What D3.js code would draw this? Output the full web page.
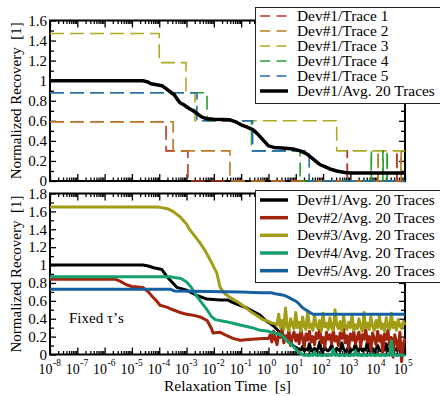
<!DOCTYPE html>
<html>
<head>
<meta charset="utf-8">
<script src="https://cdnjs.cloudflare.com/ajax/libs/d3/7.8.5/d3.min.js"></script>
<style>
body { margin: 0; background: #fff; }
text { font-family: "Liberation Serif", "Times New Roman", serif; fill: #000; }
</style>
</head>
<body>
<svg id="chart" width="440" height="396"></svg>
<script>
// decades on the time axis (exponents of 10, seconds)
var decades = [-8, -7, -6, -5, -4, -3, -2, -1, 0, 1, 2, 3, 4, 5];
var topTicks = [0, 0.2, 0.4, 0.6, 0.8, 1, 1.2, 1.4, 1.6];
var botTicks = [0, 0.2, 0.4, 0.6, 0.8, 1, 1.2, 1.4, 1.6, 1.8];

// Dev#1 single traces: [log10(t), recovery], value held until the next point
var trace1 = [[-8, 0.59], [-3.75, 0.30], [-2.95, 0], [2.88, 0.30], [2.89, 0], [4.70, 0.30], [4.71, 0], [5, 0]];
var trace2 = [[-8, 0.59], [-3.49, 0.30], [-1.41, 0], [4.01, 0.30], [4.02, 0], [4.85, 0.30], [4.86, 0], [5, 0]];
var trace3 = [[-8, 1.47], [-4.0, 1.18], [-3.02, 0.88], [-2.69, 0.60], [2.5, 0.30], [5, 0.30]];
var trace4 = [[-8, 0.88], [-2.25, 0.60], [-0.62, 0.30], [1.16, 0], [3.76, 0.30], [3.77, 0],
              [4.19, 0.30], [4.20, 0], [4.34, 0.30], [4.35, 0], [5, 0]];
var trace5 = [[-8, 0.88], [-2.62, 0.60], [-0.58, 0.30], [1.49, 0], [5, 0]];

// Dev#1 average of 20 traces (top panel)
var dev1Avg = [[-8, 1.0], [-4.6, 1.0], [-4.45, 0.99], [-4.3, 0.97], [-4.1, 0.96], [-3.9, 0.95],
  [-3.75, 0.92], [-3.6, 0.89], [-3.45, 0.86], [-3.35, 0.82], [-3.24, 0.78], [-3.1, 0.76],
  [-2.95, 0.73], [-2.76, 0.70], [-2.6, 0.67], [-2.45, 0.64], [-2.25, 0.62], [-2.0, 0.615],
  [-1.41, 0.61], [-1.2, 0.59], [-1.0, 0.56], [-0.8, 0.54], [-0.56, 0.51], [-0.4, 0.47],
  [-0.2, 0.41], [0.0, 0.35], [0.2, 0.335], [0.5, 0.33], [0.9, 0.32], [1.16, 0.30], [1.4, 0.27],
  [1.63, 0.22], [1.85, 0.17], [2.0, 0.15], [2.25, 0.12], [2.5, 0.10], [2.8, 0.085], [3.0, 0.08], [5, 0.08]];

// bottom panel, averages of 20 traces per device, smooth part up to 1 s
var dev1Head = [[-8, 1.0], [-4.6, 1.0], [-4.4, 0.99], [-4.2, 0.97], [-3.9, 0.95], [-3.72, 0.87],
  [-3.5, 0.80], [-3.35, 0.75], [-3.0, 0.72], [-2.62, 0.66], [-2.25, 0.62], [-1.78, 0.61],
  [-1.5, 0.61], [-1.3, 0.58], [-0.79, 0.52], [-0.31, 0.44], [-0.1, 0.38]];
var dev2Head = [[-8, 0.84], [-5.6, 0.84], [-5.44, 0.82], [-5.2, 0.78], [-5.0, 0.76], [-4.6, 0.75],
  [-4.4, 0.70], [-4.23, 0.64], [-4.1, 0.60], [-3.97, 0.55], [-3.72, 0.53], [-3.5, 0.50],
  [-3.24, 0.47], [-3.0, 0.45], [-2.76, 0.44], [-2.5, 0.42], [-2.25, 0.38], [-2.1, 0.30],
  [-2.03, 0.24], [-1.78, 0.25], [-1.52, 0.21], [-1.3, 0.18], [-1.04, 0.16], [-0.6, 0.17], [-0.2, 0.18]];
var dev3Head = [[-8, 1.65], [-4.2, 1.65], [-3.97, 1.645], [-3.7, 1.63], [-3.5, 1.60], [-3.24, 1.54],
  [-3.0, 1.46], [-2.87, 1.39], [-2.51, 1.25], [-2.3, 1.15], [-2.14, 1.06], [-1.89, 0.91],
  [-1.77, 0.75], [-1.6, 0.68], [-1.41, 0.64], [-1.04, 0.57], [-0.56, 0.46], [-0.2, 0.39]];
var dev4Head = [[-8, 0.87], [-3.6, 0.87], [-3.45, 0.86], [-3.2, 0.85], [-3.0, 0.81], [-2.85, 0.76],
  [-2.62, 0.65], [-2.4, 0.56], [-2.25, 0.50], [-2.1, 0.43], [-1.95, 0.39], [-1.6, 0.37],
  [-1.3, 0.35], [-1.04, 0.33], [-0.6, 0.30], [-0.3, 0.27]];
var dev5 = [[-8, 0.73], [-3.6, 0.73], [-3.45, 0.71], [-1.0, 0.70], [-0.3, 0.69], [0.1, 0.69],
  [0.25, 0.68], [0.42, 0.67], [0.6, 0.66], [0.79, 0.63], [1.04, 0.59], [1.26, 0.52],
  [1.52, 0.47], [1.63, 0.45], [5, 0.45]];

// noisy tails, sampled every 1/16 decade from 1 s to 1e5 s
var tailStep = 1 / 16;
var dev1Tail = [0.36, 0.35, 0.33, 0.32, 0.30, 0.28, 0.26, 0.24, 0.22, 0.20, 0.18, 0.16, 0.14, 0.12, 0.11, 0.09,
  0.08, 0.07, 0.06, 0.05, 0.09, 0.04, 0.06, 0.05, 0.12, 0.04, 0.05, 0.07, 0.04, 0.06, 0.14, 0.05,
  0.04, 0.08, 0.05, 0.04, 0.06, 0.11, 0.05, 0.04, 0.07, 0.05, 0.04, 0.13, 0.06, 0.04, 0.05, 0.09,
  0.04, 0.05, 0.06, 0.12, 0.04, 0.05, 0.08, 0.04, 0.06, 0.05, 0.15, 0.04, 0.05, 0.07, 0.04, 0.06,
  0.10, 0.05, 0.04, 0.06, 0.05, 0.12, 0.04, 0.05, 0.08, 0.04, 0.06, 0.05, 0.11, 0.04, 0.05, 0.07, 0.05];
var dev2Tail = [0.18, 0.22, 0.14, 0.26, 0.17, 0.11, 0.24, 0.19, 0.29, 0.13, 0.21, 0.16, 0.27, 0.10, 0.20, 0.25,
  0.15, 0.22, 0.12, 0.28, 0.18, 0.09, 0.23, 0.16, 0.26, 0.14, 0.20, 0.11, 0.24, 0.18, 0.30, 0.13,
  0.19, 0.08, 0.25, 0.17, 0.22, 0.12, 0.27, 0.15, 0.20, 0.10, 0.24, 0.18, 0.29, 0.13, 0.21, 0.07,
  0.23, 0.16, 0.26, 0.12, 0.19, 0.25, 0.09, 0.22, 0.17, 0.28, 0.14, 0.20, 0.05, 0.24, 0.18, 0.11,
  0.26, 0.15, 0.21, 0.02, 0.23, 0.17, 0.27, 0.10, 0.19, -0.03, 0.22, 0.14, 0.06, 0.25, -0.08, 0.12, 0.18];
var dev3Tail = [0.37, 0.36, 0.35, 0.35, 0.34, 0.33, 0.45, 0.30, 0.38, 0.28, 0.52, 0.31, 0.27, 0.40, 0.33, 0.29,
  0.47, 0.30, 0.36, 0.26, 0.42, 0.31, 0.28, 0.49, 0.30, 0.34, 0.27, 0.44, 0.32, 0.29, 0.38, 0.26,
  0.46, 0.31, 0.35, 0.28, 0.41, 0.30, 0.27, 0.50, 0.33, 0.29, 0.37, 0.26, 0.43, 0.31, 0.28, 0.36,
  0.30, 0.45, 0.27, 0.33, 0.29, 0.40, 0.31, 0.26, 0.47, 0.30, 0.35, 0.28, 0.42, 0.32, 0.27, 0.38,
  0.30, 0.44, 0.29, 0.34, 0.26, 0.41, 0.31, 0.28, 0.46, 0.30, 0.36, 0.27, 0.39, 0.32, 0.29, 0.37, 0.33];
var dev4Tail = [0.26, 0.25, 0.25, 0.24, 0.24, 0.23, 0.23, 0.22, 0.21, 0.19, 0.17, 0.15, 0.13, 0.12, 0.10, 0.08,
  0.06, 0.04, 0.02, 0.01, 0.00, -0.01, 0.00, -0.01, -0.01, 0.00, -0.01, 0.03, -0.01, -0.01, 0.00, -0.01,
  -0.01, 0.00, -0.01, -0.01, 0.00, -0.01, 0.06, -0.01, 0.00, -0.01, -0.01, 0.00, -0.01, -0.01, 0.00, -0.01,
  -0.01, 0.00, -0.01, 0.04, -0.01, 0.00, -0.01, -0.01, 0.00, -0.01, -0.01, 0.00, -0.01, 0.00, -0.01, -0.01,
  0.00, -0.01, -0.01, 0.00, -0.01, -0.01, 0.00, -0.01, 0.15, -0.01, 0.00, -0.01, -0.01, 0.00, -0.01, -0.01, 0.00];

var topNames = ["Dev#1/Trace 1", "Dev#1/Trace 2", "Dev#1/Trace 3", "Dev#1/Trace 4", "Dev#1/Trace 5", "Dev#1/Avg. 20 Traces"];
var botNames = ["Dev#1/Avg. 20 Traces", "Dev#2/Avg. 20 Traces", "Dev#3/Avg. 20 Traces", "Dev#4/Avg. 20 Traces", "Dev#5/Avg. 20 Traces"];

var traceColors = ["#b83a22", "#b87a22", "#b0aa22", "#28a028", "#2a6cb4"];
var devColors = ["#000000", "#a3240c", "#a29d14", "#16a06c", "#165fa0"];

function withTail(head, tail) {
  return head.concat(tail.map(function(v, i) { return [i * tailStep, v]; }));
}

var svg = d3.select("#chart");
var left = 50, right = 405;

var x = d3.scaleLog().domain([1e-8, 1e5]).range([left, right]);
var yTop = d3.scaleLinear().domain([0, 1.6]).range([181, 20.5]);
var yBot = d3.scaleLinear().domain([0, 1.8]).range([354.5, 193.5]);

var majorX = decades.map(function(e) { return Math.pow(10, e); });
var minorX = [];
decades.slice(0, -1).forEach(function(e) {
  for (var m = 2; m < 10; m++) minorX.push(m * Math.pow(10, e));
});

function fmt(v) { return String(+v.toFixed(1)); }

// frame + inward ticks on all four sides
function drawPanel(y, ticks, showX) {
  var g = svg.append("g");
  var minorY = ticks.slice(0, -1).map(function(v) { return +(v + 0.1).toFixed(1); });
  var y0 = y.range()[0], y1 = y.range()[1];

  function add(axis, tr) {
    var a = g.append("g").attr("transform", tr).call(axis);
    a.select(".domain").remove();
    a.selectAll("line").attr("stroke", "#000").attr("stroke-width", 1.3);
    return a;
  }
  add(d3.axisBottom(x).tickValues(majorX).tickSizeInner(-7).tickSizeOuter(0).tickFormat(""), "translate(0," + y0 + ")");
  add(d3.axisBottom(x).tickValues(minorX).tickSizeInner(-3.5).tickSizeOuter(0).tickFormat(""), "translate(0," + y0 + ")");
  add(d3.axisTop(x).tickValues(majorX).tickSizeInner(-7).tickSizeOuter(0).tickFormat(""), "translate(0," + y1 + ")");
  add(d3.axisTop(x).tickValues(minorX).tickSizeInner(-3.5).tickSizeOuter(0).tickFormat(""), "translate(0," + y1 + ")");
  var ly = add(d3.axisLeft(y).tickValues(ticks).tickSizeInner(-6).tickSizeOuter(0).tickPadding(3).tickFormat(fmt), "translate(" + left + ",0)");
  ly.attr("font-family", null).attr("font-size", null);
  ly.selectAll("text").style("font-size", "15px");
  add(d3.axisLeft(y).tickValues(minorY).tickSizeInner(-4).tickSizeOuter(0).tickFormat(""), "translate(" + left + ",0)");
  add(d3.axisRight(y).tickValues(ticks).tickSizeInner(-6).tickSizeOuter(0).tickFormat(""), "translate(" + right + ",0)");
  add(d3.axisRight(y).tickValues(minorY).tickSizeInner(-4).tickSizeOuter(0).tickFormat(""), "translate(" + right + ",0)");

  g.append("rect")
    .attr("x", left).attr("y", y1)
    .attr("width", right - left).attr("height", y0 - y1)
    .attr("fill", "none").attr("stroke", "#000").attr("stroke-width", 2);

  if (showX) {
    // "10" ends just right of the tick, exponent sits raised after it
    decades.forEach(function(e) {
      var tx = x(Math.pow(10, e));
      g.append("text")
        .attr("x", tx + 2.5).attr("y", 373.5)
        .attr("text-anchor", "end").style("font-size", "14px")
        .text("10");
      g.append("text")
        .attr("x", tx + 3).attr("y", 366)
        .style("font-size", "9.5px")
        .text(e);
    });
  }

  svg.append("text")
    .attr("transform", "translate(21," + ((y0 + y1) / 2) + ") rotate(-90)")
    .attr("text-anchor", "middle")
    .style("font-size", "15px").style("white-space", "pre")
    .text("Normalized Recovery  [1]");
}

drawPanel(yTop, topTicks, false);
drawPanel(yBot, botTicks, true);

function lineFor(y, curve) {
  return d3.line()
    .x(function(d) { return x(Math.pow(10, d[0])); })
    .y(function(d) { return y(d[1]); })
    .curve(curve || d3.curveLinear);
}

// top panel: dashed single traces and the average
var topData = [trace1, trace2, trace3, trace4, trace5];
var stepLine = lineFor(yTop, d3.curveStepAfter);
topData.forEach(function(d, i) {
  svg.append("path").attr("d", stepLine(d))
    .attr("fill", "none").attr("stroke", traceColors[i])
    .attr("stroke-width", 1.6).attr("stroke-dasharray", "14,6");
});
svg.append("path").attr("d", lineFor(yTop)(dev1Avg))
  .attr("fill", "none").attr("stroke", "#000")
  .attr("stroke-width", 3.5).attr("stroke-linejoin", "round");

// bottom panel: averages per device
var botData = [
  withTail(dev1Head, dev1Tail),
  withTail(dev2Head, dev2Tail),
  withTail(dev3Head, dev3Tail),
  withTail(dev4Head, dev4Tail),
  dev5
];
var botLine = lineFor(yBot);
botData.forEach(function(d, i) {
  svg.append("path").attr("d", botLine(d))
    .attr("fill", "none").attr("stroke", devColors[i])
    .attr("stroke-width", 3).attr("stroke-linejoin", "round");
});

svg.append("text").attr("x", 69).attr("y", 323)
  .style("font-size", "15px").text("Fixed \u03c4\u2019s");

svg.append("text").attr("x", 227.5).attr("y", 391)
  .attr("text-anchor", "middle")
  .style("font-size", "15.5px").style("white-space", "pre")
  .text("Relaxation Time  [s]");

// legends
function legend(names, colors, top, height, rowY, dashed, widths) {
  svg.append("rect").attr("x", 255.5).attr("y", top)
    .attr("width", 200).attr("height", height)
    .attr("fill", "#fff").attr("stroke", "#222").attr("stroke-width", 1);
  names.forEach(function(n, i) {
    var yy = rowY[i];
    svg.append("line")
      .attr("x1", 260).attr("x2", 288).attr("y1", yy).attr("y2", yy)
      .attr("stroke", colors[i]).attr("stroke-width", widths[i])
      .attr("stroke-dasharray", dashed[i] ? "10,6.5" : null);
    svg.append("text").attr("x", 297).attr("y", yy + 5)
      .style("font-size", "15.4px").text(n);
  });
}
legend(topNames, traceColors.concat(["#000"]), 7.5, 96,
  [16, 31, 46, 61, 76, 91],
  [true, true, true, true, true, false],
  [1.6, 1.6, 1.6, 1.6, 1.6, 3.5]);
legend(botNames, devColors, 190.5, 92,
  [200, 217.7, 235.3, 253, 270.7],
  [false, false, false, false, false],
  [3.5, 3.5, 3.5, 3.5, 3.5]);
</script>
</body>
</html>
